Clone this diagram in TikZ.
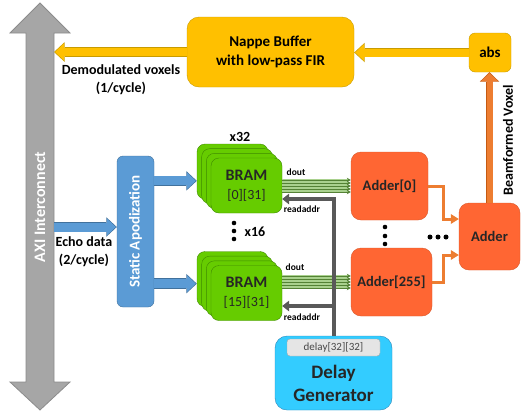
\documentclass[tikz,border=0pt]{standalone}
\usepackage{fontspec}
\setmainfont{Carlito}
\usetikzlibrary{arrows.meta}

\definecolor{gold}{HTML}{FFC000}
\definecolor{golddark}{HTML}{C89B00}
\definecolor{blueapod}{HTML}{5B9BD5}
\definecolor{bluedark}{HTML}{41719C}
\definecolor{greenbram}{HTML}{66CC00}
\definecolor{greendark}{HTML}{3F8A00}
\definecolor{greenlight}{HTML}{A9D18E}
\definecolor{greenline}{HTML}{548235}
\definecolor{adderfill}{HTML}{FF6633}
\definecolor{adderdark}{HTML}{D9592B}
\definecolor{sumorange}{HTML}{ED7D31}
\definecolor{sumdark}{HTML}{C55A11}
\definecolor{cyanfill}{HTML}{33CCFF}
\definecolor{cyandark}{HTML}{2E86B8}
\definecolor{axigray}{HTML}{A6A6A6}
\definecolor{axidark}{HTML}{8C8C8C}
\definecolor{addrgray}{HTML}{595959}
\definecolor{textdark}{HTML}{262626}

\begin{document}
\begin{tikzpicture}[x=1pt, y=-1pt]
        \tikzset{
            lbl/.style={font=\bfseries\fontsize{14}{18}\selectfont, align=center, inner sep=0pt},
            small/.style={font=\bfseries\fontsize{9.5}{11}\selectfont, inner sep=0pt},
            nappe/.style={draw=golddark, fill=gold, rounded corners=12pt, minimum width=167pt, minimum height=70pt, align=center, font=\bfseries\fontsize{15}{19}\selectfont},
            absb/.style={draw=golddark, fill=gold, rounded corners=6pt, minimum width=42pt, minimum height=39pt, font=\bfseries\fontsize{15}{18}\selectfont},
            apod/.style={draw=bluedark, fill=blueapod, rounded corners=6pt, minimum width=151pt, minimum height=37pt, text=white, font=\bfseries\fontsize{15}{18}\selectfont, rotate=90},
            bram/.style={draw=greendark, fill=greenbram, rounded corners=8pt, minimum width=71pt, minimum height=55pt, align=center, text=textdark, font=\fontsize{14}{19}\selectfont},
            adder/.style={draw=adderdark, fill=adderfill, rounded corners=10pt, minimum height=68pt, text=textdark, font=\bfseries\fontsize{14.5}{17}\selectfont},
            delaybox/.style={draw=cyandark, fill=cyanfill, rounded corners=12pt, minimum width=117pt, minimum height=74pt},
            regbox/.style={draw=gray!70, fill=gray!20, rounded corners=3pt, minimum width=93pt, minimum height=17pt, text=textdark!85, font=\fontsize{11}{13}\selectfont},
            goldarrow/.style={draw=gold, line width=8pt, shorten >=1pt, -{Triangle[length=9pt, width=17pt, line width=0pt]},
                preaction={draw=golddark, line width=9.5pt, shorten >=0pt, -{Triangle[length=10.5pt, width=19.5pt, line width=0pt]}}},
            bluearrow/.style={draw=blueapod, line width=9pt, shorten >=1pt, -{Triangle[length=9pt, width=17pt, line width=0pt]},
                preaction={draw=bluedark, line width=10.5pt, shorten >=0pt, -{Triangle[length=10.5pt, width=19.5pt, line width=0pt]}}},
            beamarrow/.style={draw=sumorange, line width=6pt, shorten >=1pt, -{Triangle[length=8pt, width=17pt, line width=0pt]},
                preaction={draw=sumdark, line width=7.5pt, shorten >=0pt, -{Triangle[length=9.5pt, width=19.5pt, line width=0pt]}}},
            sumline/.style={draw=sumorange, line width=3pt, -{Triangle[length=8pt, width=10pt, line width=0pt]}},
            addr/.style={draw=addrgray, line width=4pt, -{Triangle[length=7pt, width=11pt, line width=0pt]}},
            doutband/.style={draw=greenlight, line width=14pt, shorten >=3pt},
            doutline/.style={draw=greenline, line width=0.7pt, -{Stealth[length=4pt, width=4.5pt]}},
            dot/.style={fill=black}
        }
        \useasboundingbox (0,0) rectangle (522,413);

        % AXI interconnect
        \draw[fill=axigray, draw=axidark, line width=0.8pt]
            (26,33) -- (10,33) -- (40,3) -- (70,33) -- (54,33) -- (54,382)
            -- (70,382) -- (40,410) -- (10,382) -- (26,382) -- cycle;
        \node[text=white, font=\bfseries\fontsize{16}{19}\selectfont, rotate=90] (axi) at (40,207) {AXI Interconnect};
        \coordinate (axiedge) at (54,0);

        % Output path
        \node[nappe] (nappe) at (270.5,52) {Nappe Buffer\\with low-pass FIR};
        \node[absb] (absb) at (490,52.5) {abs};
        \node[lbl] (demod) at (121,80) {Demodulated voxels\\(1/cycle)};

        % Input path
        \node[apod] (apod) at (135.5,231.5) {Static Apodization};
        \node[lbl] (echo) at (84,252) {Echo data\\(2/cycle)};

        % BRAM stack 1 - top
        \foreach \k in {0,1,2}
            \node[bram] (bramA\k) at ({232.5+4.67*\k}, {171.5+4.67*\k}) {};
        \node[bram] (bramA) at (246.5,185.5) {\textbf{\fontsize{16}{19}\selectfont BRAM}\\{[0][31]}};
        \node[lbl] (x32) at (240,137) {x32};

        % BRAM stack 2 - bottom
        \foreach \k in {0,1,2}
            \node[bram] (bramB\k) at ({232.5+4.67*\k}, {279+4.67*\k}) {};
        \node[bram] (bramB) at (246.5,293) {\textbf{\fontsize{16}{19}\selectfont BRAM}\\{[15][31]}};
        \node[lbl] (x16) at (255,232) {x16};
        \foreach \y in {223,231,239}
            \fill[dot] (234,\y) circle (2.3);

        % Adders
        \node[adder, minimum width=77pt] (adderA) at (389.5,186) {Adder[0]};
        \node[adder, minimum width=81pt] (adderB) at (391.5,282) {Adder[255]};
        \node[adder, minimum width=61pt, minimum height=67pt] (sum) at (489.5,236.5) {Adder};
        \foreach \y in {227,236,244}
            \fill[dot] (385,\y) circle (2.3);
        \foreach \x in {430,438,446}
            \fill[dot] (\x,237) circle (2.5);

        % Delay generator
        \node[delaybox] (dg) at (333.5,373) {};
        \node[regbox] (reg) at (333.5,347.5) {delay[32][32]};
        \node[text=textdark, align=center, font=\bfseries\fontsize{19}{23}\selectfont] (dglabel) at (333.5,383.5) {Delay\\Generator};

        % Block arrows
        \draw[goldarrow] (nappe.west) -- (nappe.west -| axiedge);
        \draw[goldarrow] (absb.west) -- (absb.west -| nappe.east);
        \coordinate (echoin) at ([yshift=4.5pt]apod.north);
        \draw[bluearrow] (axiedge |- echoin) -- (echoin);
        \draw[bluearrow] (apod.south |- bramA2.west) -- (bramA0.west |- bramA2.west);
        \draw[bluearrow] (apod.south |- bramB1.west) -- (bramB0.west |- bramB1.west);
        \draw[beamarrow] (sum.north) -- (sum.north |- absb.south);
        \node[small, font=\bfseries\fontsize{14}{17}\selectfont, rotate=90] (beam) at (508,140) {Beamformed Voxel};

        % dout buses
        \coordinate (doutA) at (adderA.west -| bramA.east);
        \coordinate (doutB) at (adderB.west -| bramB.east);
        \draw[doutband] (doutA) -- (adderA.west);
        \draw[doutband] (doutB) -- (adderB.west);
        \foreach \d in {-6,-3,0,3,6} {
            \draw[doutline] ([yshift=\d pt]doutA) -- ([yshift=\d pt]adderA.west);
            \draw[doutline] ([yshift=\d pt]doutB) -- ([yshift=\d pt]adderB.west);
        }
        \node[small] (doutlblA) at (296,172) {dout};
        \node[small] (doutlblB) at (295,267) {dout};

        % readaddr
        \coordinate (addrA) at ([yshift=-13.5pt]bramA.east);
        \coordinate (addrB) at ([yshift=-13pt]bramB.east);
        \draw[addr] (dg.north) |- (addrA);
        \draw[addr] (dg.north |- addrB) -- (addrB);
        \node[small] (addrlblA) at (302,209) {readaddr};
        \node[small] (addrlblB) at (302,317) {readaddr};

        % Partial sums
        \coordinate (sumA) at ([yshift=17.5pt]sum.west);
        \coordinate (sumB) at ([yshift=-18.5pt]sum.west);
        \draw[sumline] (adderA.east) -- ++(15,0) |- (sumA);
        \draw[sumline] (adderB.east) -- ++(11,0) |- (sumB);
    \end{tikzpicture}
\end{document}
